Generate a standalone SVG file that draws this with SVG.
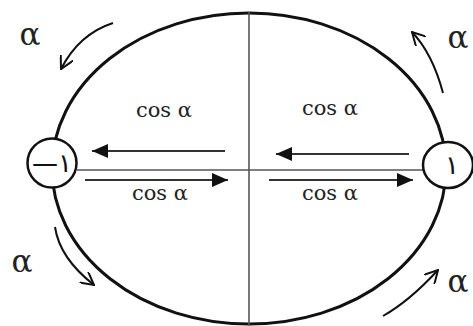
<svg xmlns="http://www.w3.org/2000/svg" width="473" height="326" viewBox="0 0 473 326">
<style>
.ell{fill:none;stroke:#111;stroke-width:3}
.axis{fill:none;stroke:#555;stroke-width:1.6}
.arr{fill:none;stroke:#333;stroke-width:2}
.curve{fill:none;stroke:#111;stroke-width:2}
.lbl{font-family:"DejaVu Serif","Liberation Serif",serif;font-size:21px;fill:#222;text-anchor:middle}
.alpha{font-family:"DejaVu Serif","Liberation Serif",serif;font-size:31px;fill:#222;text-anchor:middle}
.num{font-family:"DejaVu Sans",sans-serif;font-size:26px;fill:#111;text-anchor:middle}
.node{fill:#fff;stroke:#111;stroke-width:2.5}
</style>
<defs>
<marker id="tri" viewBox="0 0 16 14" refX="16" refY="7" markerWidth="16" markerHeight="14" markerUnits="userSpaceOnUse" orient="auto">
<path d="M0,0 L16,7 L0,14 Z" fill="#111"/>
</marker>
<marker id="vee" viewBox="0 0 14 14" refX="13" refY="7" markerWidth="14" markerHeight="14" markerUnits="userSpaceOnUse" orient="auto">
<path d="M0,0 L13,7 L0,14" fill="none" stroke="#111" stroke-width="2"/>
</marker>
</defs>
<g id="ellipse">
<ellipse class="ell" cx="249" cy="168.5" rx="197" ry="155.5"/>
</g>
<g id="connectors">
<line class="axis" x1="249" y1="12" x2="249" y2="326"/>
<line class="axis" x1="77" y1="170" x2="423" y2="170"/>
<line class="arr" x1="225" y1="151" x2="92" y2="151" marker-end="url(#tri)"/>
<line class="arr" x1="85" y1="180" x2="228" y2="180" marker-end="url(#tri)"/>
<line class="arr" x1="409" y1="154" x2="276" y2="154" marker-end="url(#tri)"/>
<line class="arr" x1="269" y1="180" x2="413" y2="180" marker-end="url(#tri)"/>
<path class="curve" d="M113,23 Q79,34 61,69" marker-end="url(#vee)"/>
<path class="curve" d="M443,93 Q432.5,53.5 412,32" marker-end="url(#vee)"/>
<path class="curve" d="M55,227 Q59.5,258 94,285" marker-end="url(#vee)"/>
<path class="curve" d="M383,316 Q409.5,301 438,270" marker-end="url(#vee)"/>
</g>
<g id="node-left">
<circle class="node" cx="52" cy="163" r="24.5"/>
<text class="num" x="52" y="172">—١</text>
</g>
<g id="node-right">
<ellipse class="node" cx="448" cy="165" rx="25" ry="23"/>
<text class="num" x="452" y="174">١</text>
</g>
<g id="labels">
<text class="lbl" x="164" y="117">cos α</text>
<text class="lbl" x="330" y="115">cos α</text>
<text class="lbl" x="160" y="200">cos α</text>
<text class="lbl" x="330" y="200">cos α</text>
<text class="alpha" x="30" y="45">α</text>
<text class="alpha" x="458" y="48">α</text>
<text class="alpha" x="22" y="272">α</text>
<text class="alpha" x="458" y="292">α</text>
</g>
</svg>
